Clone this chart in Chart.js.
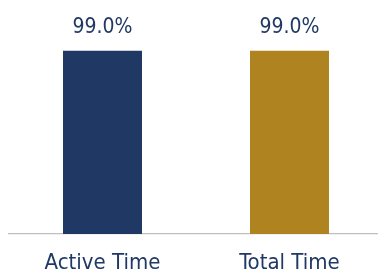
<!DOCTYPE html>
<html>
<head>
<meta charset="utf-8">
<script src="https://cdn.jsdelivr.net/npm/chart.js@4"></script>
<style>
  html, body { margin: 0; padding: 0; background: #fff; }
  #wrap { width: 378px; height: 273px; overflow: hidden; position: relative; }
  #box { width: 383px; height: 273px; position: absolute; left: 0; top: 0; }
</style>
</head>
<body>
<div id="wrap"><div id="box"><canvas id="timeChart"></canvas></div></div>
<script>
// chart data
const categories = ['Active Time', 'Total Time'];
const values = [99.0, 99.0];
const barColors = ['#1F3864', '#AE8320'];

const FONT = '"DejaVu Sans Condensed", "DejaVu Sans", sans-serif';
const TEXT = '#1F3864';

// draws the value above each bar
const valueLabels = {
  id: 'valueLabels',
  afterDatasetsDraw(chart) {
    const ctx = chart.ctx;
    const meta = chart.getDatasetMeta(0);
    ctx.save();
    ctx.font = '21px ' + FONT;
    ctx.fillStyle = TEXT;
    ctx.textAlign = 'center';
    ctx.textBaseline = 'alphabetic';
    meta.data.forEach((bar, i) => {
      ctx.fillText(values[i].toFixed(1) + '%', bar.x, bar.y - 18);
    });
    ctx.restore();
  }
};

new Chart(document.getElementById('timeChart'), {
  type: 'bar',
  data: {
    labels: categories,
    datasets: [{
      data: values,
      backgroundColor: barColors,
      borderWidth: 0,
      barPercentage: 0.4225,
      categoryPercentage: 1
    }]
  },
  options: {
    responsive: true,
    maintainAspectRatio: false,
    animation: false,
    layout: { padding: { top: 49, left: 9, right: 0, bottom: -19 } },
    plugins: { legend: { display: false }, tooltip: { enabled: false } },
    scales: {
      x: {
        grid: { display: false, drawTicks: false },
        border: { display: true, color: '#BFBFBF', width: 1.3 },
        ticks: {
          color: TEXT,
          padding: 18,
          font: { family: FONT, size: 22, lineHeight: 1 }
        }
      },
      y: { display: false, min: 0, max: 100 }
    }
  },
  plugins: [valueLabels]
});
</script>
</body>
</html>
